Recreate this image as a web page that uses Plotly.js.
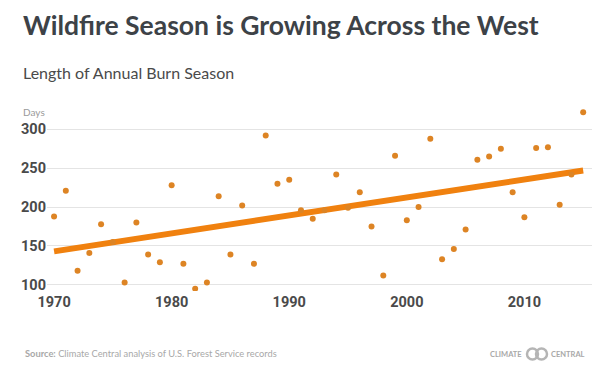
<!DOCTYPE html>
<html>
<head>
<meta charset="utf-8">
<script src="https://cdn.plot.ly/plotly-3.0.1.min.js"></script>
<style>html,body{margin:0;padding:0;background:#fff;}#chart{width:605px;height:378px;}</style>
</head>
<body>
<div id="chart"></div>
<script>
// Data
const years = [1970,1971,1972,1973,1974,1975,1976,1977,1978,1979,
               1980,1981,1982,1983,1984,1985,1986,1987,1988,1989,
               1990,1991,1992,1993,1994,1995,1996,1997,1998,1999,
               2000,2001,2002,2003,2004,2005,2006,2007,2008,2009,
               2010,2011,2012,2013,2014,2015];
const burnDays = [188,221,118,141,178,155,103,180,139,129,
                  228,127,95,103,214,139,202,127,292,230,
                  235,196,185,196,242,199,219,175,112,266,
                  183,200,288,133,146,171,261,265,275,219,
                  187,276,277,203,242,322];
const trendYears = [1970, 2015];
const trendDays = [143, 247];
const xTicks = [1970, 1980, 1990, 2000, 2010];
const yTicks = [100, 150, 200, 250, 300];

const W = 605, H = 378;
const M = {l: 47, r: 13, t: 106, b: 87};
const PW = W - M.l - M.r, PH = H - M.t - M.b;
const px = x => (x - M.l) / PW;
const py = y => 1 - (y - M.t) / PH;

const tickFont = {family: 'Roboto, "DejaVu Sans Condensed", sans-serif', size: 14.5, color: '#4a4a4a', weight: 700};
const textFont = 'Lato, "Open Sans", sans-serif';

const traces = [
  {
    x: trendYears, y: trendDays, type: 'scatter', mode: 'lines',
    line: {color: '#f0810f', width: 6},
    hoverinfo: 'skip', showlegend: false
  },
  {
    x: years, y: burnDays, type: 'scatter', mode: 'markers',
    marker: {color: '#dd8424', size: 6},
    showlegend: false
  }
];

const annotations = [
  {text: 'Wildfire Season is Growing Across the West', xref: 'paper', yref: 'paper',
   x: px(21), y: py(25), xanchor: 'left', yanchor: 'middle', showarrow: false,
   font: {family: textFont, size: 26.5, color: '#3d4247', weight: 700}},
  {text: 'Length of Annual Burn Season', xref: 'paper', yref: 'paper',
   x: px(21), y: py(72), xanchor: 'left', yanchor: 'middle', showarrow: false,
   font: {family: textFont, size: 16, color: '#4a4a4a'}},
  {text: 'Days', xref: 'paper', yref: 'paper',
   x: px(21), y: py(112), xanchor: 'left', yanchor: 'middle', showarrow: false,
   font: {family: textFont, size: 10, color: '#9a9a9a'}},
  {text: '<b>Source:</b> Climate Central analysis of U.S. Forest Service records', xref: 'paper', yref: 'paper',
   x: px(23), y: py(353), xanchor: 'left', yanchor: 'middle', showarrow: false,
   font: {family: textFont, size: 9.3, color: '#a8a8a8'}},
  {text: 'CLIMATE', xref: 'paper', yref: 'paper',
   x: px(524), y: py(354), xanchor: 'right', yanchor: 'middle', showarrow: false,
   font: {family: textFont, size: 7.5, color: '#a8a8a8', weight: 700}},
  {text: 'CENTRAL', xref: 'paper', yref: 'paper',
   x: px(549), y: py(354), xanchor: 'left', yanchor: 'middle', showarrow: false,
   font: {family: textFont, size: 7.5, color: '#a8a8a8', weight: 700}}
];

const shapes = [
  {type: 'circle', xref: 'paper', yref: 'paper', x0: px(527), x1: px(538), y0: py(359.5), y1: py(348.5),
   line: {color: '#b5b5b5', width: 2.5}},
  {type: 'circle', xref: 'paper', yref: 'paper', x0: px(536), x1: px(547), y0: py(359.5), y1: py(348.5),
   line: {color: '#b5b5b5', width: 2.5}}
];

const layout = {
  width: W, height: H,
  margin: M,
  paper_bgcolor: '#ffffff', plot_bgcolor: '#ffffff',
  xaxis: {
    range: [1969.4, 2015.75], tickvals: xTicks, ticktext: xTicks.map(String),
    showgrid: false, zeroline: false, showline: false, ticks: '',
    ticklabelstandoff: 0,
    tickfont: tickFont
  },
  yaxis: {
    range: [92, 330], tickvals: yTicks, ticktext: yTicks.map(String),
    showgrid: true, gridcolor: '#e4e4e4', gridwidth: 1,
    zeroline: false, showline: false, ticks: '',
    tickfont: tickFont
  },
  annotations: annotations,
  shapes: shapes,
  showlegend: false
};

Plotly.newPlot('chart', traces, layout, {displayModeBar: false, staticPlot: true});
</script>
</body>
</html>
